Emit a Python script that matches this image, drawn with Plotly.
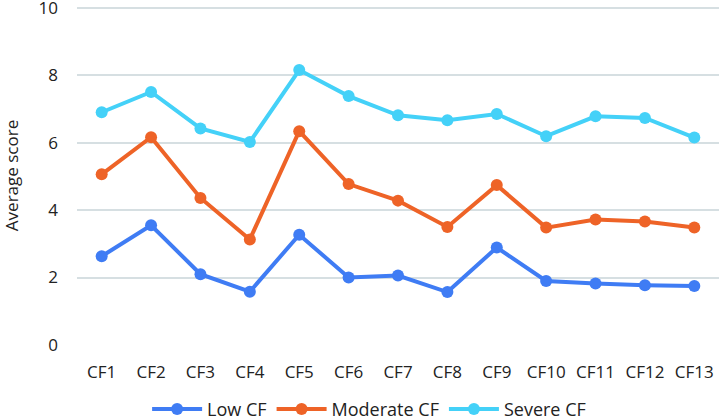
import plotly.graph_objects as go

categories = ["CF1", "CF2", "CF3", "CF4", "CF5", "CF6", "CF7", "CF8", "CF9", "CF10", "CF11", "CF12", "CF13"]
low_cf = [2.63, 3.55, 2.10, 1.58, 3.27, 2.00, 2.06, 1.57, 2.89, 1.90, 1.82, 1.77, 1.75]
moderate_cf = [5.06, 6.16, 4.36, 3.13, 6.34, 4.77, 4.28, 3.50, 4.74, 3.48, 3.72, 3.66, 3.48]
severe_cf = [6.90, 7.50, 6.42, 6.02, 8.15, 7.38, 6.81, 6.66, 6.85, 6.19, 6.78, 6.73, 6.15]
y_ticks = [0, 2, 4, 6, 8, 10]

series = [
    ("Low CF", low_cf, "#3F7CF4"),
    ("Moderate CF", moderate_cf, "#EE6327"),
    ("Severe CF", severe_cf, "#44D1F8"),
]

FONT = "Open Sans"
TXT = "#222222"
fig = go.Figure()
for name, vals, color in series:
    fig.add_trace(go.Scatter(
        x=categories, y=vals, name=name, mode="lines+markers",
        line=dict(color=color, width=4),
        marker=dict(color=color, size=12),
    ))

fig.update_layout(
    width=720, height=416,
    margin=dict(l=77, r=1, t=6, b=71, autoexpand=False),
    paper_bgcolor="white", plot_bgcolor="white",
    font=dict(family=FONT, size=17, color=TXT),
    showlegend=True,
    legend=dict(orientation="h", xanchor="center", yanchor="middle",
                x=0.455, y=-0.19, font=dict(size=18, family=FONT, color=TXT),
                itemwidth=50, bgcolor="rgba(0,0,0,0)"),
)
fig.update_xaxes(
    type="category", range=[-0.5, 12.5], showgrid=False, showline=False,
    zeroline=False, ticks="", ticklabelstandoff=15, automargin=False,
    ticklabeloverflow="allow",
    tickfont=dict(size=17, family=FONT, color=TXT),
)
fig.update_yaxes(
    range=[0, 10.05], tickvals=y_ticks, showgrid=True, gridcolor="#D6DFE2", gridwidth=1.5,
    zeroline=False, showline=False, ticks="", ticklabelstandoff=18, automargin=False,
    ticklabeloverflow="allow",
    tickfont=dict(size=17, family=FONT, color=TXT),
    title=dict(text="Average score", standoff=21, font=dict(size=17, family=FONT, color=TXT)),
)

fig.write_html("out.html", config={"displayModeBar": False},
               post_script="document.body.style.margin='0';document.body.style.padding='0';")
